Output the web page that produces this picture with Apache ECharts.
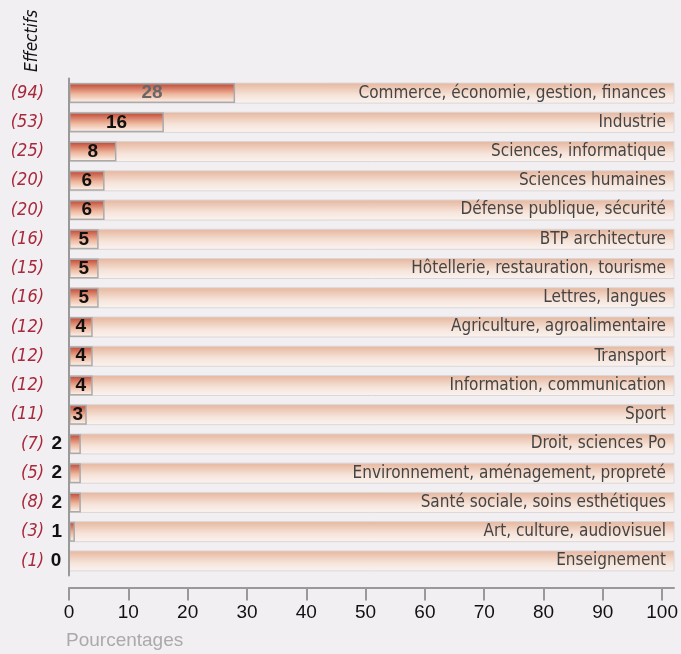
<!DOCTYPE html>
<html><head><meta charset="utf-8">
<script src="https://cdn.jsdelivr.net/npm/echarts@6/dist/echarts.min.js"></script>
<style>html,body{margin:0;padding:0;background:#f1eff1}#c{width:681px;height:654px}</style>
</head><body><div id="c"></div>
<script>
const categories = ["Commerce, économie, gestion, finances","Industrie","Sciences, informatique","Sciences humaines","Défense publique, sécurité","BTP architecture","Hôtellerie, restauration, tourisme","Lettres, langues","Agriculture, agroalimentaire","Transport","Information, communication","Sport","Droit, sciences Po","Environnement, aménagement, propreté","Santé sociale, soins esthétiques","Art, culture, audiovisuel","Enseignement"];
const percentages = [28,16,8,6,6,5,5,5,4,4,4,3,2,2,2,1,0];
const effectifs = [94,53,25,20,20,16,15,16,12,12,12,11,7,5,8,3,1];
const xTicks = [0,10,20,30,40,50,60,70,80,90,100];

const narrow = '"Liberation Sans Narrow","DejaVu Sans Condensed",sans-serif';
const chart = echarts.init(document.getElementById('c'));
const data = percentages.map((v,i)=>({
  value: v,
  label: v >= 3 ? {position:'inside', color: i===0 ? '#666' : '#111'} : {position:'left', distance:7, color:'#111'}
}));
chart.setOption({
  backgroundColor:'#f1eff1',
  animation:false,
  grid:{left:69, right:5, top:78.5, bottom:78.5},
  xAxis:{type:'value', min:0, max:102, interval:10, offset:12,
    axisLine:{show:true, lineStyle:{color:'#999', width:2}},
    axisTick:{show:true, customValues:xTicks, length:13, inside:false, lineStyle:{color:'#999', width:2}},
    axisLabel:{customValues:xTicks, color:'#111', fontSize:19, fontFamily:'"Liberation Sans",Arial,sans-serif', margin:16},
    splitLine:{show:false}},
  yAxis:[
    {type:'category', data:categories, inverse:true, z:10,
     axisLine:{show:true, lineStyle:{color:'#999', width:2}}, axisTick:{show:false},
     axisLabel:{formatter:(v,i)=>'('+effectifs[i]+')', color:'#a8283c', fontStyle:'italic', fontSize:18, fontFamily:narrow, margin:25}},
    {type:'category', data:categories, inverse:true, position:'right', z:10,
     axisLine:{show:false}, axisTick:{show:false},
     axisLabel:{inside:true, margin:8, color:'#444', fontSize:17, fontFamily:narrow}}
  ],
  graphic:[
    {type:'text', left:66, top:631, style:{text:'Pourcentages', fill:'#aaa', fontSize:19, fontFamily:'"Liberation Sans",Arial,sans-serif'}},
    {type:'text', x:41, y:72, rotation:Math.PI/2, style:{text:'Effectifs', fill:'#111', fontSize:17, fontStyle:'italic', fontFamily:narrow, align:'left', verticalAlign:'bottom'}}
  ],
  series:[{
    type:'bar', yAxisIndex:0, data:data, barWidth:20,
    showBackground:true,
    backgroundStyle:{color:new echarts.graphic.LinearGradient(0,0,0,1,[{offset:0,color:'#e6b59c'},{offset:0.6,color:'#f6e4da'},{offset:1,color:'#faf4f1'}]), borderColor:'#dcd6d6', borderWidth:1},
    itemStyle:{color:new echarts.graphic.LinearGradient(0,0,0,1,[{offset:0,color:'#c0432f'},{offset:0.55,color:'#eeb79d'},{offset:1,color:'#fdf8f4'}]), borderColor:'#aaa', borderWidth:1.5},
    label:{show:true, fontSize:19, fontWeight:'bold', fontFamily:'"Liberation Sans",Arial,sans-serif', formatter:'{c}'}
  }]
});
</script></body></html>
